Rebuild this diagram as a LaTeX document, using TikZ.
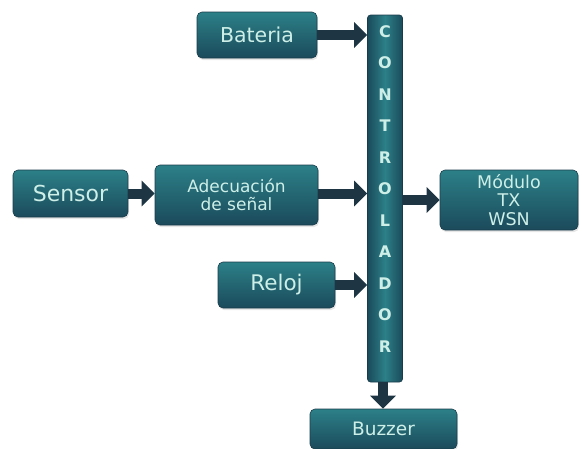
\documentclass[tikz,border=0pt]{standalone}
\usepackage{fontspec}
\setmainfont{DejaVu Sans}
\usepackage{xcolor}
\usetikzlibrary{arrows.meta,shadows}
\usetikzlibrary{positioning}
\definecolor{cajaarr}{HTML}{2C8088}
\definecolor{cajaab}{HTML}{1B4A5B}
\definecolor{borde}{HTML}{1A3C4A}
\definecolor{letra}{HTML}{CDEFE8}
\definecolor{flecha}{HTML}{1E3643}

\begin{document}
\begin{tikzpicture}[x=1pt,y=-1pt,semithick]
 \tikzstyle{caja}=[draw=borde, rounded corners=5pt, top color=cajaarr, bottom color=cajaab, text=letra, align=center, inner sep=2pt, drop shadow={opacity=0.2, shadow xshift=1pt, shadow yshift=-2pt}]
 \tikzstyle{barra}=[draw=borde, rounded corners=3pt, left color=cajaab, right color=cajaab, middle color=cajaarr, inner sep=0pt]
 \tikzstyle{flec}=[draw=flecha, line width=10pt, -{Triangle[length=13pt,width=25pt]}]
 \useasboundingbox (0,0) rectangle (582,448);
 % bloques
 \node[caja, minimum width=120pt, minimum height=46pt, font=\fontsize{20.5}{22}\selectfont] (bat) at (257,35) {Bateria};
 \node[barra, minimum width=35pt, minimum height=367pt] (ctrl) at (385,198.5) {};
 \node[caja, minimum width=115pt, minimum height=47pt, font=\fontsize{22}{24}\selectfont] (sen) at (70.5,193.5) {Sensor};
 \node[caja, minimum width=163pt, minimum height=60pt, font=\fontsize{17}{18.5}\selectfont] (adec) at (236.5,195) {Adecuación\\de señal};
 \node[caja, minimum width=138pt, minimum height=60pt, font=\fontsize{17.5}{18.5}\selectfont] (mod) at (509,200) {Módulo\\TX\\WSN};
 \node[caja, minimum width=117pt, minimum height=46pt, font=\fontsize{21.5}{23}\selectfont] (rel) at (276.5,285) {Reloj};
 \node[caja, minimum width=147pt, minimum height=40pt, font=\fontsize{18.5}{20}\selectfont] (buz) at (383.5,429) {Buzzer};
 % letras del controlador
 \foreach \l [count=\i from 0] in {C,O,N,T,R,O,L,A,D,O,R}
  \node[text=letra, font=\fontsize{16}{17}\selectfont\bfseries] (c\i) at (385,{31.5+31.5*\i}) {\l};
 % flechas
 \draw[flec] (bat.east) -- (bat -| ctrl.west);
 \draw[flec] (sen.east) -- (sen -| adec.west);
 \draw[flec] (adec.east |- sen) -- (sen -| ctrl.west);
 \draw[flec] (rel.east) -- (rel -| ctrl.west);
 \draw[flec] (ctrl.east |- mod) -- (mod.west);
 \draw[flec] ([xshift=-2pt]ctrl.south) -- ([xshift=-2pt]ctrl.south |- buz.north);
\end{tikzpicture}
\end{document}
